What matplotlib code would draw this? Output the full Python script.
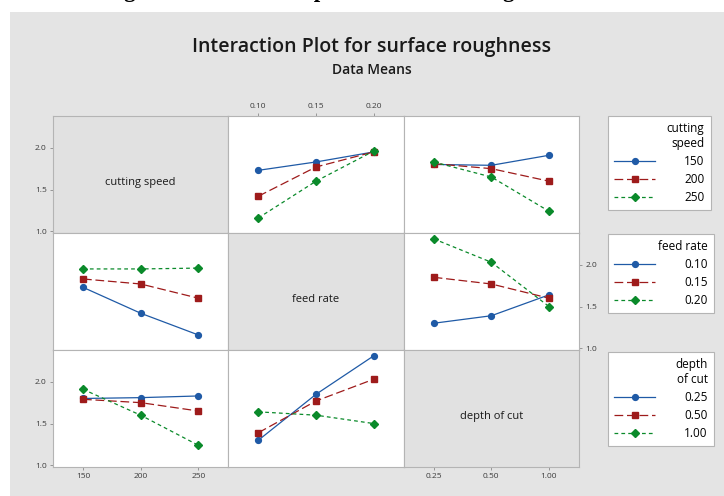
import matplotlib
matplotlib.use("Agg")
import matplotlib.pyplot as plt
from matplotlib.lines import Line2D
from matplotlib.patches import Rectangle

# factor names and levels
factors = ["cutting speed", "feed rate", "depth of cut"]
speed_levels = ["150", "200", "250"]
feed_levels = ["0.10", "0.15", "0.20"]
depth_levels = ["0.25", "0.50", "1.00"]
legend_titles = ["cutting\nspeed", "feed rate", "depth\nof cut"]

# mean surface roughness, rows = first factor level, cols = second factor level
speed_feed = [[1.73, 1.83, 1.95],
              [1.42, 1.77, 1.95],
              [1.16, 1.60, 1.96]]
speed_depth = [[1.80, 1.79, 1.91],
               [1.81, 1.75, 1.60],
               [1.83, 1.65, 1.24]]
feed_depth = [[1.30, 1.39, 1.64],
              [1.85, 1.77, 1.60],
              [2.31, 2.03, 1.50]]

levels = [speed_levels, feed_levels, depth_levels]
tables = {(0, 1): speed_feed, (0, 2): speed_depth, (1, 2): feed_depth}

colors = ["#1f5aa6", "#9e1b1b", "#0a8a2a"]
markers = ["o", "s", "D"]
dashes = [(None, None), (7, 3), (3, 2.5)]
msizes = [4.2, 4.2, 4.0]

BG = "#e4e4e4"
DIAG = "#e1e1e1"
EDGE = "#b4b4b4"
TICKC = "#3c3c3c"


def cell_means(row, col):
    # traces = levels of the row factor, x = levels of the column factor
    if row < col:
        return tables[(row, col)]
    t = tables[(col, row)]
    return [list(r) for r in zip(*t)]


def style_line(ln, k):
    if k > 0:
        ln.set_dashes(dashes[k])


fig = plt.figure(figsize=(7.24, 4.96), dpi=100)
fig.patch.set_facecolor("white")
fig.patches.append(Rectangle((10 / 724, 0), 1, 1 - 12 / 496, transform=fig.transFigure,
                             facecolor=BG, edgecolor="none", zorder=-10))

# caption of the source page, mostly cut off at the top
fig.text(104 / 724, 1 + 3.5 / 496, "Figure 5: Interaction plot for surface roughness",
         family="Liberation Serif", weight="bold", fontsize=16.5, va="baseline", ha="left")

fig.text(372 / 724, 1 - 47 / 496, "Interaction Plot for surface roughness",
         family="Open Sans", weight="semibold", fontsize=14, ha="center", va="center",
         color="#1a1a1a")
fig.text(372 / 724, 1 - 70 / 496, "Data Means",
         family="Open Sans", weight="semibold", fontsize=10, ha="center", va="center",
         color="#1a1a1a")

left, right, top, bottom = 53 / 724, 579 / 724, 1 - 116 / 496, 1 - 467 / 496
cw = (right - left) / 3
ch = (top - bottom) / 3

for r in range(3):
    for c in range(3):
        ax = fig.add_axes([left + c * cw, top - (r + 1) * ch, cw, ch])
        ax.set_xlim(-0.52, 2.52)
        ax.set_ylim(0.98, 2.38)
        for s in ax.spines.values():
            s.set_color(EDGE)
            s.set_linewidth(0.8)
        ax.tick_params(length=2.5, width=0.6, color="#8a8a8a", labelsize=6,
                       labelcolor=TICKC, pad=2)
        ax.set_xticks(range(3))
        ax.set_yticks([1.0, 1.5, 2.0])
        ax.set_xticklabels(levels[c], family="Open Sans")
        ax.set_yticklabels(["1.0", "1.5", "2.0"], family="Open Sans")
        ax.tick_params(bottom=False, labelbottom=False, left=False, labelleft=False)

        if r == c:
            ax.set_facecolor(DIAG)
            ax.text(0.5, 0.43, factors[r], transform=ax.transAxes, ha="center",
                    va="center", fontsize=8, family="Open Sans", color="#1a1a1a")
        else:
            ax.set_facecolor("white")
            means = cell_means(r, c)
            for k, vals in enumerate(means):
                ln, = ax.plot(range(3), vals, color=colors[k], marker=markers[k],
                              markersize=msizes[k], linewidth=0.9)
                style_line(ln, k)

        if c == 0 and r in (0, 2):
            ax.tick_params(left=True, labelleft=True)
        if c == 2 and r == 1:
            ax.tick_params(right=True, labelright=True)
        if r == 2 and c in (0, 2):
            ax.tick_params(bottom=True, labelbottom=True)
        if r == 0 and c == 1:
            ax.tick_params(top=True, labeltop=True)

# one legend per factor
legend_tops = [116, 234, 352]
for k_f in range(3):
    handles = []
    for k in range(3):
        h = Line2D([], [], color=colors[k], marker=markers[k], markersize=msizes[k],
                   linewidth=0.9)
        style_line(h, k)
        handles.append(h)
    leg = fig.legend(handles, levels[k_f], title=legend_titles[k_f], loc="upper left",
                     bbox_to_anchor=(608 / 724, 1 - legend_tops[k_f] / 496),
                     borderaxespad=0, alignment="right",
                     handlelength=3.4, handletextpad=2.5, labelspacing=0.4,
                     borderpad=0.55, fancybox=False, framealpha=1,
                     edgecolor=EDGE, prop={"family": "Open Sans", "size": 8.5},
                     title_fontsize=8.5)
    leg.get_frame().set_linewidth(0.8)
    leg.get_title().set_multialignment("right")
    leg.get_title().set_family("Open Sans")

fig.savefig("out.png", dpi=100)
